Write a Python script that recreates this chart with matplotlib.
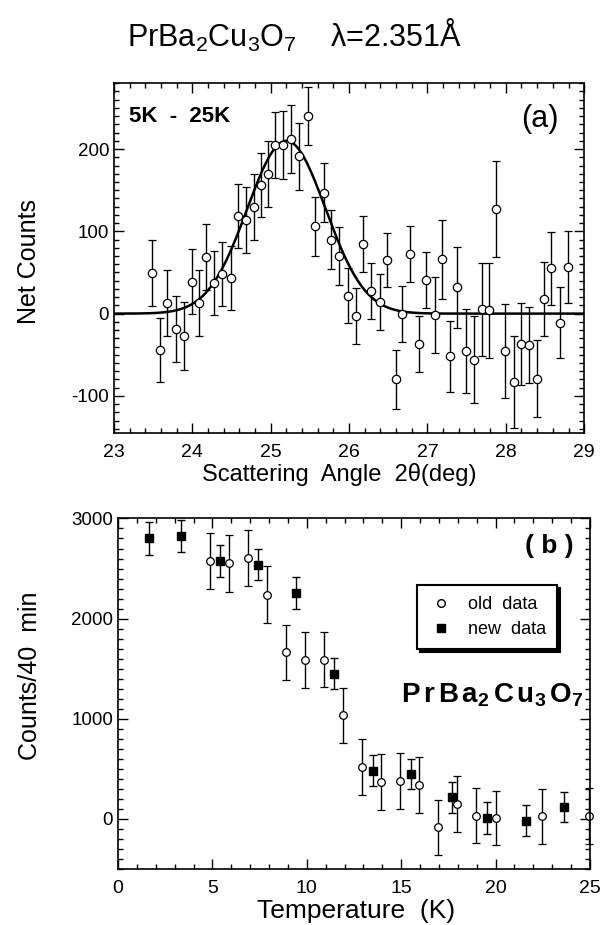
import numpy as np
import matplotlib.pyplot as plt
from matplotlib.lines import Line2D
from matplotlib.ticker import MultipleLocator

plt.rcParams['font.family'] = ['Liberation Sans', 'DejaVu Sans']
plt.rcParams['mathtext.fontset'] = 'custom'
plt.rcParams['mathtext.rm'] = 'Liberation Sans'
plt.rcParams['mathtext.bf'] = 'Liberation Sans:bold'
plt.rcParams['mathtext.it'] = 'Liberation Sans:italic'
plt.rcParams['axes.unicode_minus'] = False

# (a) net counts (5K - 25K) vs scattering angle
angle = [23.48, 23.59, 23.68, 23.79, 23.89, 23.99, 24.09, 24.18, 24.28, 24.38,
         24.49, 24.58, 24.68, 24.78, 24.88, 24.97, 25.06, 25.16, 25.26, 25.36,
         25.47, 25.57, 25.68, 25.77, 25.87, 25.98, 26.09, 26.18, 26.28, 26.39,
         26.48, 26.60, 26.68, 26.78, 26.89, 26.98, 27.09, 27.18, 27.29, 27.38,
         27.49, 27.60, 27.69, 27.79, 27.87, 27.99, 28.10, 28.19, 28.29, 28.40,
         28.49, 28.58, 28.69, 28.79]
net_counts = [49, -44, 13, -19, -27, 39, 13, 69, 37, 48,
              43, 119, 114, 130, 156, 170, 205, 205, 212, 191,
              240, 106, 147, 90, 70, 22, -3, 85, 27, 14,
              65, -80, 0, 72, -37, 41, -2, 66, -52, 32,
              -46, -56, 5, 4, 127, -45, -83, -37, -38, -79,
              18, 55, -11, 57]
net_err = [40, 39, 40, 40, 41, 40, 40, 40, 39, 39,
           39, 39, 40, 40, 39, 40, 40, 41, 41, 41,
           35, 36, 36, 36, 35, 34, 34, 34, 34, 34,
           33, 36, 34, 34, 34, 34, 46, 48, 43, 49,
           51, 53, 56, 58, 58, 57, 56, 50, 46, 47,
           45, 44, 43, 44]

# gaussian fit drawn through (a)
fit_center = 25.2
fit_height = 210.0
fit_sigma = 0.5
fit_base = 0.0

# (b) peak intensity vs temperature
old_temp = [4.86, 5.88, 6.87, 7.89, 8.90, 9.90, 10.89, 11.93, 12.94, 13.93,
            14.95, 15.94, 16.96, 17.98, 18.94, 20.0, 22.44, 24.95]
old_counts = [2576, 2553, 2606, 2240, 1663, 1590, 1590, 1033, 516, 366,
              376, 340, -84, 150, 33, 10, 26, 26]
old_err = [281, 285, 281, 281, 276, 280, 276, 275, 278, 278,
           278, 281, 278, 281, 276, 273, 278, 280]

new_temp = [1.65, 3.36, 5.41, 7.42, 9.43, 11.46, 13.49, 15.51, 17.67, 19.57, 21.63, 23.62]
new_counts = [2800, 2826, 2576, 2540, 2253, 1450, 483, 450, 216, 10, -17, 116]
new_err = [162, 157, 162, 157, 160, 157, 157, 152, 152, 157, 154, 149]


def style_axis(ax):
    ax.tick_params(which='both', direction='in', top=True, right=True,
                   width=1.0, labelsize=13.5)
    ax.tick_params(which='major', length=7)
    ax.tick_params(which='minor', length=3.5)
    ax.tick_params(axis='x', pad=8, labelsize=14)
    for sp in ax.spines.values():
        sp.set_linewidth(1.2)


fig = plt.figure(figsize=(6.13, 9.25), dpi=100)

fig.text(0.48, 0.962, r'PrBa$_2$Cu$_3$O$_7$    λ=2.351Å', ha='center', va='center',
         fontsize=22)

# ---- panel (a)
ax1 = fig.add_axes([0.186, 0.532, 0.767, 0.378])
ax1.errorbar(angle, net_counts, yerr=net_err, fmt='o', mfc='white', mec='black',
             ms=6, mew=0.9, ecolor='black', elinewidth=1.0, capsize=3, capthick=1.0)
xfit = np.linspace(23, 29, 400)
ax1.plot(xfit, fit_base + fit_height * np.exp(-0.5 * ((xfit - fit_center) / fit_sigma) ** 2),
         color='black', lw=1.8)
ax1.set_xlim(23, 29)
ax1.set_ylim(-145, 280)
ax1.xaxis.set_major_locator(MultipleLocator(1))
ax1.xaxis.set_minor_locator(MultipleLocator(0.2))
ax1.yaxis.set_major_locator(MultipleLocator(100))
ax1.yaxis.set_minor_locator(MultipleLocator(10))
style_axis(ax1)
ax1.set_xlabel('Scattering  Angle  2θ(deg)', fontsize=17)
ax1.xaxis.set_label_coords(0.48, -0.085)
ax1.set_ylabel('Net Counts', fontsize=18)
ax1.yaxis.set_label_coords(-0.155, 0.49)
ax1.text(0.032, 0.935, '5K  -  25K', transform=ax1.transAxes, ha='left', va='top',
         fontsize=16, fontweight='bold')
ax1.text(0.945, 0.94, '(a)', transform=ax1.transAxes, ha='right', va='top', fontsize=22)

# ---- panel (b)
ax2 = fig.add_axes([0.1925, 0.0605, 0.770, 0.379])
ax2.errorbar(old_temp, old_counts, yerr=old_err, fmt='o', mfc='white', mec='black',
             ms=5.5, mew=0.9, ecolor='black', elinewidth=1.0, capsize=3, capthick=1.0,
             clip_on=False)
ax2.errorbar(new_temp, new_counts, yerr=new_err, fmt='s', color='black',
             ms=6, ecolor='black', elinewidth=1.0, capsize=3, capthick=1.0)
ax2.set_xlim(0, 25)
ax2.set_ylim(-500, 3000)
ax2.xaxis.set_major_locator(MultipleLocator(5))
ax2.xaxis.set_minor_locator(MultipleLocator(1))
ax2.yaxis.set_major_locator(MultipleLocator(1000))
ax2.yaxis.set_minor_locator(MultipleLocator(100))
style_axis(ax2)
ax2.set_xlabel('Temperature  (K)', fontsize=19)
ax2.xaxis.set_label_coords(0.505, -0.085)
ax2.set_ylabel('Counts/40  min', fontsize=18)
ax2.yaxis.set_label_coords(-0.16, 0.55)
ax2.text(0.965, 0.955, '( b )', transform=ax2.transAxes, ha='right', va='top',
         fontsize=19, fontweight='bold')
ax2.text(0.6, 0.475, r'$\mathbf{P\,r\,B\,a_2\,C\,u_3\,O_7}$', transform=ax2.transAxes,
         ha='left', va='baseline', fontsize=20)

handles = [
    Line2D([], [], ls='none', marker='o', mfc='white', mec='black', ms=5.5, label='old  data'),
    Line2D([], [], ls='none', marker='s', color='black', ms=6, label='new  data'),
]
leg = ax2.legend(handles=handles, loc='upper left', bbox_to_anchor=(0.615, 0.835),
                 frameon=True, fancybox=False, shadow={'color': 'black', 'alpha': 1},
                 edgecolor='black', framealpha=1, fontsize=13, handletextpad=0.8,
                 borderpad=0.6, labelspacing=0.45, handlelength=1.4)
leg.get_frame().set_linewidth(1.5)

fig.savefig('out.png', dpi=100)
